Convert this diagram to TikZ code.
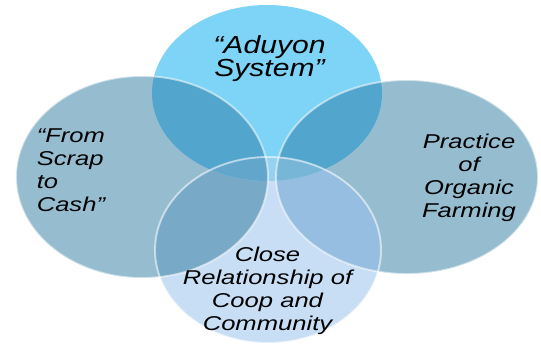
\documentclass[tikz,border=0pt]{standalone}
\usepackage{fontspec}
\setmainfont{Liberation Sans}
\newfontfamily\sidesans[FakeStretch=1.28]{Liberation Sans}
\newfontfamily\topsans[FakeStretch=1.22]{Liberation Sans}
\usepackage{tikz}
\usetikzlibrary{positioning}

\definecolor{aduyonfill}{RGB}{125,212,246}
\definecolor{sidefill}{RGB}{150,189,207}
\definecolor{coopfill}{RGB}{200,222,244}
\definecolor{topside}{RGB}{82,165,204}
\definecolor{coopleft}{RGB}{120,170,200}
\definecolor{coopright}{RGB}{150,190,224}
\definecolor{topcoop}{RGB}{150,210,240}
\definecolor{topcoopleft}{RGB}{98,166,204}
\definecolor{topcoopright}{RGB}{120,182,216}

\newcommand\sidefont{\sidesans\itshape\fontsize{15}{17.25}\selectfont\lineskiplimit=-20pt}
\newcommand\topfont{\topsans\itshape\fontsize{18.5}{17.5}\selectfont\lineskiplimit=-20pt}

\tikzset{
  rim/.style={draw=white, draw opacity=0.55, line width=1.4pt},
  sidetext/.style={font=\sidefont, inner sep=0pt},
  toptext/.style={font=\topfont, inner sep=0pt}
}

\begin{document}
\begin{tikzpicture}[x=0.75pt,y=0.75pt,yscale=-1,xscale=1]
\useasboundingbox (0,0) rectangle (541,346);

%Shape: Ellipse [top] 
\fill [aduyonfill] (267,93) ellipse (115 and 88);
%Shape: Ellipse [left] 
\fill [sidefill] (142,177) ellipse (126 and 101);
%Shape: Ellipse [right] 
\fill [sidefill] (407,177) ellipse (131 and 97);
%Shape: Ellipse [bottom] 
\fill [coopfill] (268,250) ellipse (113 and 93);

% overlaps with the top ellipse
\begin{scope}
\clip (267,93) ellipse (115 and 88);
\fill [topside] (142,177) ellipse (126 and 101);
\fill [topside] (407,177) ellipse (131 and 97);
\end{scope}
% overlaps with the bottom ellipse
\begin{scope}
\clip (268,250) ellipse (113 and 93);
\fill [coopleft] (142,177) ellipse (126 and 101);
\fill [coopright] (407,177) ellipse (131 and 97);
\end{scope}
% top and bottom together
\begin{scope}
\clip (268,250) ellipse (113 and 93);
\clip (267,93) ellipse (115 and 88);
\fill [topcoop] (268,250) ellipse (113 and 93);
\fill [topcoopleft] (142,177) ellipse (126 and 101);
\fill [topcoopright] (407,177) ellipse (131 and 97);
\end{scope}

% rims
\draw [rim] (142,177) ellipse (126 and 101);
\draw [rim] (407,177) ellipse (131 and 97);
\draw [rim] (268,250) ellipse (113 and 93);

% Text Node
\node [toptext, align=center] (aduyon) at (269.5,58.7) {“Aduyon\\System”};
% Text Node
\node [sidetext, align=left, anchor=west] (scrap) at (36.5,170.1) {“From\\Scrap\\to\\Cash”};
% Text Node
\node [sidetext, align=center] (organic) at (469,177.4) {Practice\\of\\Organic\\Farming};
% Text Node
\node [sidetext, align=center] (coopcomm) at (267.5,290.4) {Close\\Relationship of\\Coop and\\Community};

\end{tikzpicture}
\end{document}
